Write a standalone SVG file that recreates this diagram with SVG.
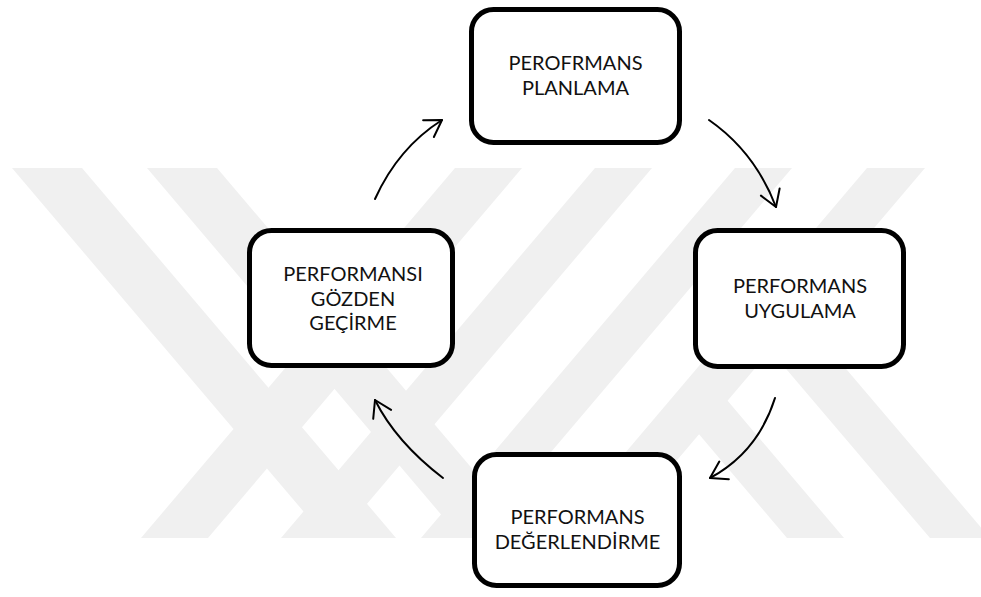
<svg xmlns="http://www.w3.org/2000/svg" width="981" height="597" viewBox="0 0 981 597">
<style>
.wm{fill:#f0f0f0;stroke:none}
.box{fill:#ffffff;stroke:#000000;stroke-width:5}
.lbl{font-family:Lato,"Open Sans","Liberation Sans",sans-serif;font-size:20px;fill:#111111;text-anchor:middle}
.arr{fill:none;stroke:#000000;stroke-width:2;stroke-linecap:round}
</style>
<defs>
<marker id="head" markerUnits="userSpaceOnUse" markerWidth="40" markerHeight="40" viewBox="-20 -20 40 40" refX="0" refY="0" orient="auto">
<path d="M-16,-10 L0,0 L-16,10" fill="none" stroke="#000" stroke-width="2" stroke-linecap="round" stroke-linejoin="round"/>
</marker>
</defs>
<rect x="0" y="0" width="981" height="597" fill="#ffffff"/>
<g id="watermark">
<polygon class="wm" points="12,168 82,168 396,538 326,538"/>
<polygon class="wm" points="147,168 217,168 531,538 461,538"/>
<polygon class="wm" points="455,168 522,168 208,538 141,538"/>
<polygon class="wm" points="595,168 652,168 338,538 281,538"/>
<polygon class="wm" points="735,168 792,168 478,538 421,538"/>
<polygon class="wm" points="867,168 925,168 611,538 553,538"/>
<polygon class="wm" points="670,400 727,400 844,538 787,538"/>
<polygon class="wm" points="770,350 830,350 990,538 930,538"/>
</g>
<g id="connectors">
<path class="arr" d="M375,199 Q398,148 442,120" marker-end="url(#head)"/>
<path class="arr" d="M709,120 Q755,152 776,207" marker-end="url(#head)"/>
<path class="arr" d="M775,398 Q758,452 710,478" marker-end="url(#head)"/>
<path class="arr" d="M443,478 Q396,442 375,400" marker-end="url(#head)"/>
</g>
<g id="node-planlama">
<rect class="box" x="471.5" y="9.5" width="208" height="133" rx="22"/>
<text class="lbl" x="575.5" y="70">PEROFRMANS</text>
<text class="lbl" x="575.5" y="95">PLANLAMA</text>
</g>
<g id="node-uygulama">
<rect class="box" x="695.5" y="230.5" width="208" height="136" rx="22"/>
<text class="lbl" x="800" y="293">PERFORMANS</text>
<text class="lbl" x="800" y="318">UYGULAMA</text>
</g>
<g id="node-degerlendirme">
<rect class="box" x="474.5" y="454.5" width="205" height="131" rx="22"/>
<text class="lbl" x="577.5" y="524">PERFORMANS</text>
<text class="lbl" x="577.5" y="548.5">DEĞERLENDİRME</text>
</g>
<g id="node-gozden">
<rect class="box" x="249.5" y="230.5" width="203" height="135" rx="22"/>
<text class="lbl" x="353" y="281">PERFORMANSI</text>
<text class="lbl" x="353" y="305.5">GÖZDEN</text>
<text class="lbl" x="353" y="330">GEÇİRME</text>
</g>
</svg>
